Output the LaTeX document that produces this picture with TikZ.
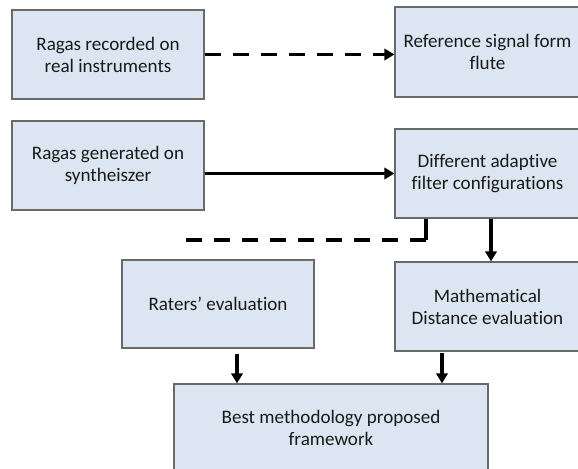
\documentclass[tikz,border=0pt]{standalone}
\usepackage{fontspec}
\setmainfont{Carlito}[Ligatures=NoCommon]
\usetikzlibrary{arrows.meta}
\definecolor{boxblue}{RGB}{220,230,242}
\definecolor{boxline}{RGB}{105,105,105}
\definecolor{txt}{RGB}{25,25,25}
\begin{document}
\begin{tikzpicture}[x=0.75pt,y=-0.75pt,
  blk/.style={draw=boxline,line width=0.9pt,fill=boxblue,inner sep=0pt,align=center,
    text=txt,font=\fontsize{14.3}{16.5}\selectfont},
  tip/.style={-{Triangle[length=7.5pt,width=8.5pt]}},
  conn/.style={line width=2.6pt,tip},
  dashconn/.style={line width=2.6pt,dash pattern=on 12pt off 9pt},
  ]
\clip (0,0) rectangle (578,468);
\fill[white] (0,0) rectangle (578,468);
\node[blk,minimum width=192*0.75pt,minimum height=89*0.75pt] (r1) at (108,54.5) {Ragas recorded on\\real instruments};
\node[blk,minimum width=185*0.75pt,minimum height=90*0.75pt] (ref) at (487.5,52) {Reference signal form\\flute};
\node[blk,minimum width=192*0.75pt,minimum height=89*0.75pt] (r2) at (108,165.5) {Ragas generated on\\syntheiszer};
\node[blk,minimum width=185*0.75pt,minimum height=89*0.75pt] (dif) at (487.5,173.5) {Different adaptive\\filter configurations};
\node[blk,minimum width=192*0.75pt,minimum height=88*0.75pt] (rat) at (218,304) {Raters’ evaluation};
\node[blk,minimum width=185*0.75pt,minimum height=89*0.75pt] (mat) at (487.5,306.5) {Mathematical\\Distance evaluation};
\node[blk,minimum width=314*0.75pt,minimum height=87*0.75pt] (best) at (331,427.5) {Best methodology proposed\\framework};
% connectors
\draw[dashconn,tip] (r1.east) -- (r1.east -| ref.west);
\draw[conn] (dif.west -| r2.east) -- (dif.west);
\coordinate (dcorner) at (426,240);
\coordinate (dend) at (183,240);
\draw[line width=2.6pt] (dif.south -| dcorner) -- (dcorner);
\draw[dashconn] (dcorner) -- (dend);
\draw[conn] (dif.south -| 491,0) -- (mat.north -| 491,0);
\draw[conn,shorten <=4pt] (rat.south -| 237,0) -- (best.north -| 237,0);
\draw[conn,shorten <=1pt] (mat.south -| 442,0) -- (best.north -| 442,0);
\end{tikzpicture}
\end{document}
